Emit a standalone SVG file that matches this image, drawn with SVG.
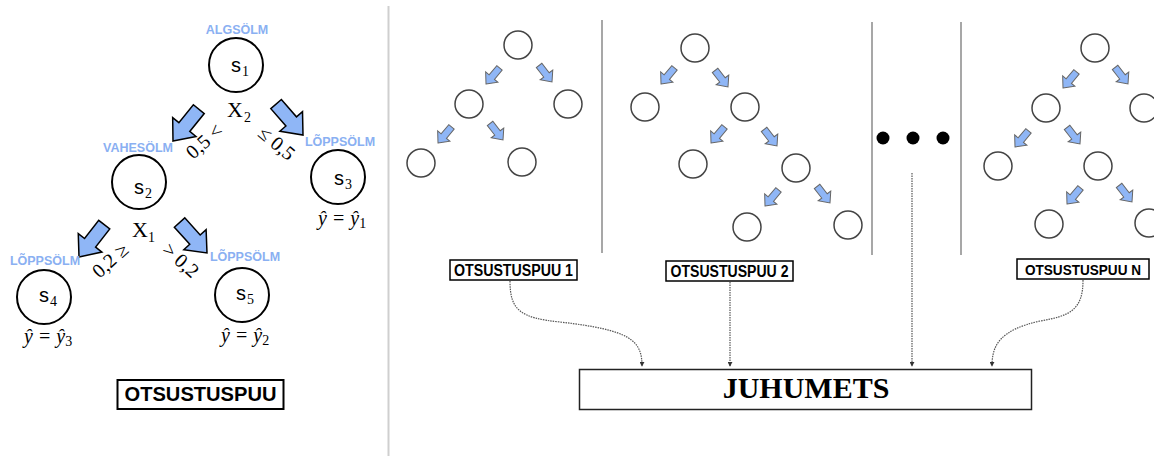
<svg xmlns="http://www.w3.org/2000/svg" width="1154" height="456" viewBox="0 0 1154 456">
<style>
.lbl{font-family:"Liberation Sans",Arial,sans-serif;font-weight:bold;font-size:12.5px;fill:#8ab0f2;text-anchor:middle}
.big{fill:#fff;stroke:#000;stroke-width:2}
.sm{fill:#fff;stroke:#444;stroke-width:1.5}
.s{font-family:"Liberation Sans",Arial,sans-serif;font-size:20px;fill:#000}
.sub{font-family:"Liberation Serif","Times New Roman",serif;font-size:14px;fill:#000}
.x{font-family:"Liberation Serif","Times New Roman",serif;font-size:22px;fill:#000}
.cond{font-family:"Liberation Serif","Times New Roman",serif;font-size:20px;fill:#000;text-anchor:middle;dominant-baseline:central}
.yh{font-family:"Liberation Serif","Times New Roman",serif;font-style:italic;font-size:20px;fill:#000;text-anchor:middle}
.box{fill:#fff;stroke:#000;stroke-width:1.5}
.bt{font-family:"Liberation Sans",Arial,sans-serif;font-weight:bold;font-size:16px;fill:#000;text-anchor:middle}
.sep{stroke:#8a8a8a;stroke-width:1.5}
.conn{fill:none;stroke:#555;stroke-width:1.2;stroke-dasharray:1.5 1}
</style>
<defs>
<path id="bigArrow" d="M0,0 L-18,-15 L-18,-7 L-41,-7 L-41,7 L-18,7 L-18,15 Z" fill="#8fb6f6" stroke="#000" stroke-width="1.5" stroke-linejoin="miter"/>
<path id="smArrow" d="M0,0 L-9,-8 L-9,-3.5 L-21,-3.5 L-21,3.5 L-9,3.5 L-9,8 Z" fill="#8fb6f6" stroke="#666" stroke-width="1"/>
<marker id="tip" viewBox="0 0 6 6" refX="5" refY="3" markerWidth="5" markerHeight="5" orient="auto" markerUnits="userSpaceOnUse">
<path d="M0,0 L6,3 L0,6 Z" fill="#333"/>
</marker>
</defs>

<!-- separator between panels -->
<line x1="388.5" y1="6" x2="388.5" y2="456" stroke="#cfcfcf" stroke-width="2"/>

<!-- LEFT: decision tree -->
<g id="left-arrows">
<use href="#bigArrow" transform="translate(173,141) rotate(129)"/>
<use href="#bigArrow" transform="translate(303,135) rotate(49)"/>
<use href="#bigArrow" transform="translate(79,257) rotate(128)"/>
<use href="#bigArrow" transform="translate(207,253) rotate(48)"/>
</g>

<g id="node-s1">
<text class="lbl" x="237" y="34">ALGSÖLM</text>
<circle class="big" cx="236" cy="65" r="27"/>
<text class="s" x="231" y="72">s</text><text class="sub" x="242" y="76">1</text>
</g>
<g id="split-x2">
<text class="x" x="227" y="117">X</text><text class="sub" x="244" y="122">2</text>
<text class="cond" transform="translate(204,141) rotate(-42)">0,5 &lt;</text>
<text class="cond" transform="translate(277,143) rotate(40)">≤ 0,5</text>
</g>
<g id="node-s2">
<text class="lbl" x="138" y="152">VAHESÖLM</text>
<circle class="big" cx="139" cy="182" r="27"/>
<text class="s" x="134" y="194">s</text><text class="sub" x="145" y="198">2</text>
</g>
<g id="node-s3">
<text class="lbl" x="340" y="146">LÕPPSÖLM</text>
<circle class="big" cx="338" cy="177" r="27"/>
<text class="s" x="334" y="185">s</text><text class="sub" x="345" y="189">3</text>
<text class="yh" x="342" y="225">ŷ = ŷ<tspan font-size="14" dy="3" font-style="normal">1</tspan></text>
</g>
<g id="split-x1">
<text class="x" x="132" y="237">X</text><text class="sub" x="148" y="242">1</text>
<text class="cond" transform="translate(110,260) rotate(-42)">0,2 ≥</text>
<text class="cond" transform="translate(181,260) rotate(42)">&gt; 0,2</text>
</g>
<g id="node-s4">
<text class="lbl" x="45" y="265">LÕPPSÖLM</text>
<circle class="big" cx="44" cy="297" r="27"/>
<text class="s" x="39" y="302">s</text><text class="sub" x="50" y="306">4</text>
<text class="yh" x="48" y="343">ŷ = ŷ<tspan font-size="14" dy="3" font-style="normal">3</tspan></text>
</g>
<g id="node-s5">
<text class="lbl" x="245" y="261">LÕPPSÖLM</text>
<circle class="big" cx="242" cy="295" r="27"/>
<text class="s" x="236" y="300">s</text><text class="sub" x="247" y="304">5</text>
<text class="yh" x="245" y="342">ŷ = ŷ<tspan font-size="14" dy="3" font-style="normal">2</tspan></text>
</g>
<g id="label-otsustuspuu">
<rect x="117.5" y="380" width="166" height="29" fill="#fff" stroke="#000" stroke-width="2"/>
<text class="bt" x="200.5" y="401" style="font-size:20px" textLength="152" lengthAdjust="spacingAndGlyphs">OTSUSTUSPUU</text>
</g>

<!-- RIGHT: random forest -->
<g id="separators">
<line class="sep" x1="602" y1="20" x2="602" y2="253"/>
<line class="sep" x1="872" y1="22" x2="872" y2="255"/>
<line class="sep" x1="961" y1="22" x2="961" y2="255"/>
</g>

<g id="tree-1">
<circle class="sm" cx="518" cy="45" r="14"/>
<circle class="sm" cx="469" cy="104" r="14"/>
<circle class="sm" cx="568" cy="104" r="14"/>
<circle class="sm" cx="421" cy="163" r="14"/>
<circle class="sm" cx="522" cy="162" r="14"/>
<use href="#smArrow" transform="translate(486,84) rotate(130)"/>
<use href="#smArrow" transform="translate(552,82) rotate(52)"/>
<use href="#smArrow" transform="translate(438,143) rotate(130)"/>
<use href="#smArrow" transform="translate(503,140) rotate(52)"/>
</g>

<g id="tree-2">
<circle class="sm" cx="695" cy="48" r="14"/>
<circle class="sm" cx="645" cy="107" r="14"/>
<circle class="sm" cx="745" cy="107" r="14"/>
<circle class="sm" cx="693" cy="164" r="14"/>
<circle class="sm" cx="796" cy="168" r="14"/>
<circle class="sm" cx="747" cy="227" r="14"/>
<circle class="sm" cx="848" cy="225" r="14"/>
<use href="#smArrow" transform="translate(661,84) rotate(130)"/>
<use href="#smArrow" transform="translate(728,87) rotate(52)"/>
<use href="#smArrow" transform="translate(711,143) rotate(130)"/>
<use href="#smArrow" transform="translate(777,146) rotate(52)"/>
<use href="#smArrow" transform="translate(765,206) rotate(130)"/>
<use href="#smArrow" transform="translate(830,203) rotate(52)"/>
</g>

<g id="ellipsis">
<circle cx="883" cy="138" r="6.5" fill="#000"/>
<circle cx="913" cy="138" r="6.5" fill="#000"/>
<circle cx="943" cy="138" r="6.5" fill="#000"/>
</g>

<g id="tree-n">
<circle class="sm" cx="1095" cy="48" r="14"/>
<circle class="sm" cx="1046" cy="108" r="14"/>
<circle class="sm" cx="1144" cy="108" r="14"/>
<circle class="sm" cx="998" cy="166" r="14"/>
<circle class="sm" cx="1098" cy="166" r="14"/>
<circle class="sm" cx="1049" cy="224" r="14"/>
<circle class="sm" cx="1149" cy="223" r="14"/>
<use href="#smArrow" transform="translate(1063,88) rotate(130)"/>
<use href="#smArrow" transform="translate(1128,84) rotate(52)"/>
<use href="#smArrow" transform="translate(1015,147) rotate(130)"/>
<use href="#smArrow" transform="translate(1080,144) rotate(52)"/>
<use href="#smArrow" transform="translate(1067,204) rotate(130)"/>
<use href="#smArrow" transform="translate(1132,202) rotate(52)"/>
</g>

<g id="label-tree-1">
<rect class="box" x="450" y="260" width="127" height="20"/>
<text class="bt" x="513.5" y="276" textLength="119" lengthAdjust="spacingAndGlyphs">OTSUSTUSPUU 1</text>
</g>
<g id="label-tree-2">
<rect class="box" x="666" y="261" width="127" height="20"/>
<text class="bt" x="729.5" y="277" textLength="118" lengthAdjust="spacingAndGlyphs">OTSUSTUSPUU 2</text>
</g>
<g id="label-tree-n">
<rect class="box" x="1017" y="259" width="132" height="20"/>
<text class="bt" x="1083" y="275" style="font-size:15px" textLength="116" lengthAdjust="spacingAndGlyphs">OTSUSTUSPUU N</text>
</g>

<g id="connectors">
<path class="conn" d="M510,281 C510,310 520,318 560,322 C630,330 642,340 642,366" marker-end="url(#tip)"/>
<path class="conn" d="M730,282 L730,366" marker-end="url(#tip)"/>
<path class="conn" d="M912,173 L912,366" marker-end="url(#tip)"/>
<path class="conn" d="M1083,280 C1083,310 1070,316 1040,321 C1000,330 992,345 992,366" marker-end="url(#tip)"/>
</g>

<g id="juhumets">
<rect x="579.5" y="369.5" width="452" height="40" fill="#fff" stroke="#222" stroke-width="1.5"/>
<text x="806" y="398" font-family="'Liberation Serif','Times New Roman',serif" font-weight="bold" font-size="30" text-anchor="middle" fill="#000">JUHUMETS</text>
</g>
</svg>
